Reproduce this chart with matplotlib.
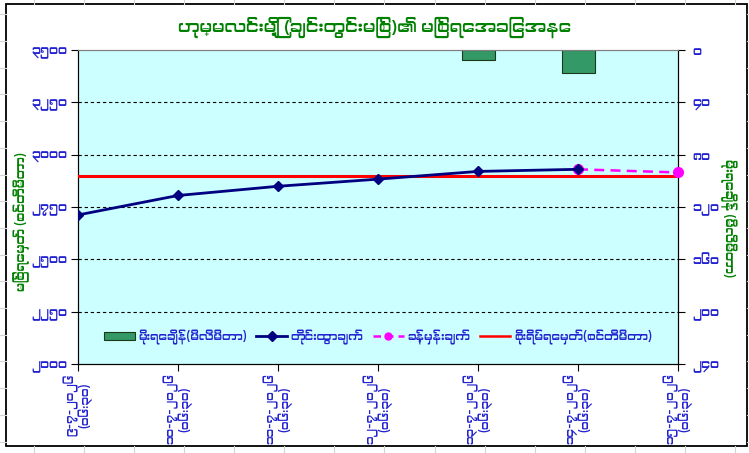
import numpy as np
import matplotlib
matplotlib.use("Agg")
import matplotlib.pyplot as plt
from matplotlib import font_manager as fm
from matplotlib.ft2font import FT2Font
from matplotlib.lines import Line2D
from matplotlib.patches import Patch, Rectangle

# ---------------- data ----------------
title = "ဟုမ္မလင်းမြို့ (ချင်းတွင်းမြစ်)၏ မြစ်ရေအခြေအနေ"
left_label = "မြစ်ရေမှတ် (စင်တီမီတာ)"
right_label = "မိုးရေချိန် (မီလီမီတာ)"
dates = ["၉-၇-၂၀၂၆", "၁၀-၇-၂၀၂၆", "၁၁-၇-၂၀၂၆", "၁၂-၇-၂၀၂၆",
         "၁၃-၇-၂၀၂၆", "၁၄-၇-၂၀၂၆", "၁၅-၇-၂၀၂၆"]
times = ["(၀၆:၃၀)"] * 7
observed = [2712, 2805, 2849, 2883, 2920, 2930]          # categories 0..5
forecast_idx = [5, 6]
forecast = [2930, 2915]
danger_level = 2900
rain = [np.nan, np.nan, np.nan, np.nan, 7.62, 17.78, np.nan]
legend_labels = ["မိုးရေချိန်(မီလီမီတာ)", "တိုင်းထွာချက်", "ခန့်မှန်းချက်",
                 "စိုးရိမ်ရေမှတ်(စင်တီမီတာ)"]
left_ticks = [2000, 2250, 2500, 2750, 3000, 3250, 3500]
right_ticks = [0, 40, 80, 120, 160, 200, 240]

# ---------------- font ----------------
def find_myanmar_font():
    cands = sorted(fm.fontManager.ttflist,
                   key=lambda f: 0 if "myanmar" in f.name.lower() or "padauk" in f.name.lower() else 1)
    for f in cands:
        try:
            cm = FT2Font(f.fname).get_charmap()
        except Exception:
            continue
        if 0x1000 in cm and 0x1041 in cm and 0x1019 in cm:
            return f.name
    return None

mm = find_myanmar_font()
families = ([mm] if mm else []) + ["DejaVu Sans"]
plt.rcParams["font.family"] = families

def mmdigits(v):
    return str(v).translate(str.maketrans("0123456789", "၀၁၂၃၄၅၆၇၈၉"))

# ---------------- figure ----------------
W, H = 749, 453
fig = plt.figure(figsize=(W / 100, H / 100), dpi=100)
fig.patch.set_facecolor("white")

# spreadsheet cell gridlines outside chart
for xg in np.arange(33.7, W, 50.1):
    for (y0, y1) in [(0, 4), (446, H)]:
        fig.add_artist(Line2D([xg / W, xg / W], [1 - y0 / H, 1 - y1 / H],
                              color="#d4d4d4", lw=0.8, transform=fig.transFigure))
for yg in np.arange(14.3, H, 26.7):
    for (x0, x1) in [(0, 6), (747, W)]:
        fig.add_artist(Line2D([x0 / W, x1 / W], [1 - yg / H, 1 - yg / H],
                              color="#d4d4d4", lw=0.8, transform=fig.transFigure))
# chart area border
fig.add_artist(Rectangle((6 / W, 1 - 446 / H), 741 / W, 442 / H, fill=False,
                         edgecolor="black", lw=1.3, transform=fig.transFigure))

L, R, T, B = 78, 678, 50, 364
ax = fig.add_axes([L / W, 1 - B / H, (R - L) / W, (B - T) / H])
ax.set_facecolor("#CCFFFF")
ax2 = ax.twinx()

blue = "#2222d0"
green = "#008000"
x = np.arange(len(dates))

# rainfall bars (secondary, inverted axis)
rain_arr = np.array(rain, dtype=float)
m = ~np.isnan(rain_arr)
ax2.bar(x[m], rain_arr[m], width=0.33, color="#339966", edgecolor="#1a3a1a",
        linewidth=0.8, zorder=2)
ax2.set_ylim(240, 0)
ax2.set_yticks(right_ticks)
ax2.set_yticklabels([mmdigits(t) for t in right_ticks], color=blue, fontsize=9)

# primary axis on top of ax2
ax.set_zorder(ax2.get_zorder() + 1)
ax.patch.set_visible(False)
ax2.set_facecolor("#CCFFFF")
ax2.patch.set_visible(True)

ax.axhline(danger_level, color="#FF0000", lw=2.2, zorder=3)
ax.plot(x[:len(observed)], observed, color="#000080", lw=2, marker="D",
        markersize=5, zorder=5)
ax.plot(forecast_idx, forecast, color="#FF00FF", lw=1.8, ls=(0, (4, 2.5)),
        marker="o", markersize=7, zorder=4, clip_on=False)

ax.set_xlim(0, 6)
ax.set_ylim(2000, 3500)
ax.set_yticks(left_ticks)
ax.set_yticklabels([mmdigits(t) for t in left_ticks], color=blue, fontsize=9)
for yv in left_ticks[1:-1]:
    ax.axhline(yv, color="black", lw=0.8, ls=(0, (3, 2.5)), zorder=1)

ax.set_xticks(x)
ax.set_xticklabels([f"{d}\n{t}" for d, t in zip(dates, times)], rotation=90,
                   color=blue, fontsize=8.5, linespacing=0.95, va="top", ha="center")

for a in (ax, ax2):
    a.spines["top"].set_color("#808080")
    a.spines["left"].set_color("black")
    a.spines["right"].set_color("black")
    a.spines["bottom"].set_color("black")
    a.tick_params(length=5, width=0.8, direction="out")
ax.tick_params(axis="y", pad=3)
ax2.tick_params(axis="y", pad=5)
ax.tick_params(axis="x", pad=2)

# titles
fig.text(0.5, 1 - 27 / H, title, ha="center", va="center", color=green,
         fontsize=12.5, fontweight="bold")
fig.text(22 / W, 1 - 222 / H, left_label, rotation=90, ha="center", va="center",
         color=green, fontsize=9)
fig.text(728 / W, 1 - 218 / H, right_label, rotation=270, ha="center", va="center",
         color=green, fontsize=9)

# legend
handles = [
    Patch(facecolor="#339966", edgecolor="#1a3a1a", lw=0.8),
    Line2D([], [], color="#000080", lw=2, marker="D", markersize=5),
    Line2D([], [], color="#FF00FF", lw=1.8, ls=(0, (3, 2)), marker="o", markersize=5),
    Line2D([], [], color="#FF0000", lw=1.8),
]
leg = ax.legend(handles, legend_labels, loc="center", bbox_to_anchor=(0.5, (364 - 337) / 314),
                ncol=4, frameon=False, fontsize=8.5, handlelength=2.6, columnspacing=0.8,
                handletextpad=0.3, borderpad=0.2)
for t in leg.get_texts():
    t.set_color(blue)

fig.savefig("out.png", dpi=100)
